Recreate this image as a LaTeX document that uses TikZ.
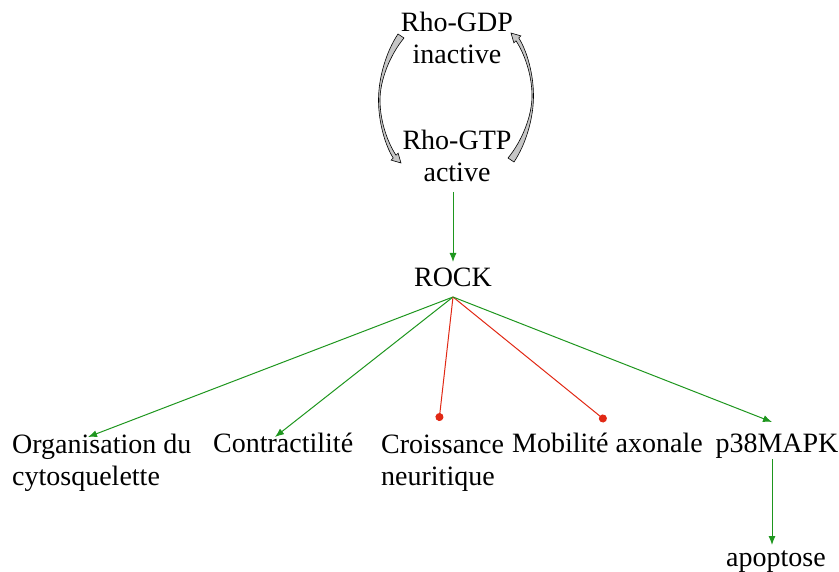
\documentclass[tikz,border=0pt]{standalone}
\usepackage{fontspec}
\setmainfont{Liberation Serif}
\usetikzlibrary{arrows.meta}
\definecolor{actgreen}{RGB}{30,150,30}
\definecolor{inhred}{RGB}{225,40,20}

\begin{document}
\begin{tikzpicture}[x=1pt, y=-1pt, >={Latex[length=9pt, width=7pt]},
    lbl/.style={font=\fontsize{28}{32}\selectfont, align=left, inner sep=0pt},
    act/.style={->, actgreen, line width=1pt},
    inh/.style={-{Circle[length=8pt]}, inhred, line width=1pt},
    cyc/.style={fill=gray!45, draw=black, line width=0.6pt}]
    \useasboundingbox (0,0) rectangle (839,572);
    % Rho cycle
    \node[lbl, align=center, anchor=base] (gdp) at (457,64) {Rho-GDP\\inactive};
    \node[lbl, align=center, anchor=base] (gtp) at (457,182) {Rho-GTP\\active};
    \foreach \a in {0,180}
      \path[cyc, rotate around={\a:(456,98)}] (398,34) -- (404,38)
        .. controls (390,55) and (380,80) .. (380,100)
        .. controls (380,122) and (388,143) .. (396,155.2)
        -- (398.1,153.1) -- (401,163) -- (391.1,160.1) -- (393.2,158)
        .. controls (385,145) and (378.5,122) .. (378.5,100)
        .. controls (378.5,78) and (386,52) .. cycle;
    % ROCK and targets
    \node[lbl, anchor=base] (rock) at (453,287) {ROCK};
    \coordinate (rk) at (453,297);
    \node[lbl, anchor=base west] (org) at (12,485) {Organisation du\\cytosquelette};
    \node[lbl, anchor=base west] (contr) at (213,453) {Contractilité};
    \node[lbl, anchor=base west] (crois) at (381,485) {Croissance\\neuritique};
    \node[lbl, anchor=base west] (mob) at (512,453) {Mobilité axonale};
    \node[lbl, anchor=base] (p38) at (777,453) {p38MAPK};
    \node[lbl, anchor=base] (apo) at (776,566) {apoptose};
    \coordinate (org-t) at (88,437);
    \coordinate (contr-t) at (275,437);
    \coordinate (crois-t) at (439,421);
    \coordinate (mob-t) at (606,421);
    \coordinate (p38-t) at (772,422);
    \coordinate (p38-b) at (772,459);
    \coordinate (apo-t) at (772,545);
    \coordinate (gtp-b) at (453,192);
    \coordinate (rock-t) at (453,262);
    \draw[act] (gtp-b) -- (rock-t);
    \draw[act] (rk) -- (org-t);
    \draw[act] (rk) -- (contr-t);
    \draw[inh] (rk) -- (crois-t);
    \draw[inh] (rk) -- (mob-t);
    \draw[act] (rk) -- (p38-t);
    \draw[act] (p38-b) -- (apo-t);
\end{tikzpicture}
\end{document}
